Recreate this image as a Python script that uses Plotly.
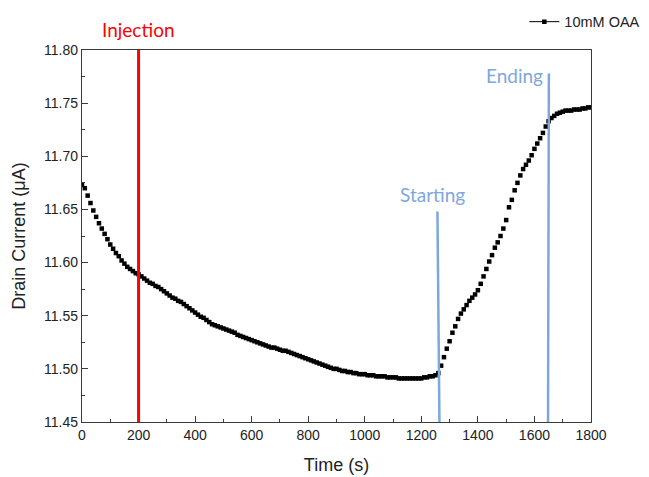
import numpy as np
import plotly.graph_objects as go

# Time in seconds (sampled every 10 s)
time_s = list(range(0, 1801, 10))

# Drain current (uA)
current_uA = [
    11.673, 11.670, 11.663, 11.656, 11.649, 11.643, 11.637, 11.632, 11.627, 11.622,
    11.617, 11.613, 11.609, 11.606, 11.602, 11.599, 11.596, 11.594, 11.592, 11.590,
    11.589, 11.587, 11.585, 11.583, 11.581, 11.580, 11.578, 11.577, 11.575, 11.573,
    11.571, 11.569, 11.567, 11.566, 11.564, 11.563, 11.561, 11.559, 11.557, 11.555,
    11.553, 11.551, 11.549, 11.548, 11.546, 11.544, 11.542, 11.541, 11.540, 11.539,
    11.538, 11.537, 11.536, 11.535, 11.534, 11.532, 11.531, 11.530, 11.529, 11.528,
    11.527, 11.526, 11.525, 11.524, 11.523, 11.522, 11.521, 11.520, 11.520, 11.519,
    11.518, 11.517, 11.517, 11.516, 11.515, 11.514, 11.513, 11.512, 11.511, 11.510,
    11.509, 11.508, 11.507, 11.506, 11.505, 11.504, 11.503, 11.502, 11.501, 11.500,
    11.500, 11.499, 11.498, 11.498, 11.497, 11.497, 11.496, 11.496, 11.495, 11.495,
    11.495, 11.494, 11.494, 11.494, 11.493, 11.493, 11.493, 11.493, 11.492, 11.492,
    11.492, 11.492, 11.491, 11.491, 11.491, 11.491, 11.491, 11.491, 11.491, 11.491,
    11.491, 11.492, 11.492, 11.493, 11.493, 11.494, 11.496, 11.503, 11.511, 11.519,
    11.526, 11.534, 11.540, 11.547, 11.552, 11.556, 11.560, 11.564, 11.567, 11.570,
    11.574, 11.580, 11.587, 11.594, 11.601, 11.607, 11.614, 11.619, 11.625, 11.632,
    11.640, 11.652, 11.659, 11.668, 11.675, 11.682, 11.688, 11.692, 11.696, 11.701,
    11.707, 11.712, 11.717, 11.722, 11.728, 11.733, 11.736, 11.738, 11.740, 11.741,
    11.742, 11.743, 11.743, 11.743, 11.744, 11.744, 11.744, 11.745, 11.745, 11.746,
    11.746,
]

series_name = "10mM OAA"

# Event markers
injection_t = 200
start_line_t = [1257, 1264]
start_line_v = [11.648, 11.45]
end_line_t = [1651, 1648]
end_line_v = [11.778, 11.45]

x_ticks = list(range(0, 1801, 200))
y_ticks = [11.45, 11.50, 11.55, 11.60, 11.65, 11.70, 11.75, 11.80]

RED = "#ff0000"
BLUE = "#7ea7dd"
AXIS = "#3a3a3a"
FONT = "Liberation Sans"

fig = go.Figure()
fig.add_trace(go.Scatter(
    x=time_s, y=current_uA, mode="markers",
    marker=dict(symbol="square", size=4.5, color="black"),
    showlegend=False,
))
fig.add_trace(go.Scatter(
    x=[None], y=[None], mode="lines+markers", name=series_name,
    marker=dict(symbol="square", size=4.5, color="black"),
    line=dict(color="black", width=1),
))

# Injection line (red)
fig.add_shape(type="line", xref="x", yref="y",
              x0=injection_t, x1=injection_t, y0=11.45, y1=11.80,
              line=dict(color=RED, width=3))
# Starting / Ending lines (blue)
fig.add_shape(type="line", xref="x", yref="y",
              x0=start_line_t[0], x1=start_line_t[1], y0=start_line_v[0], y1=start_line_v[1],
              line=dict(color=BLUE, width=2.5))
fig.add_shape(type="line", xref="x", yref="y",
              x0=end_line_t[0], x1=end_line_t[1], y0=end_line_v[0], y1=end_line_v[1],
              line=dict(color=BLUE, width=2.5))

fig.add_annotation(text="Injection", x=injection_t, xref="x", y=1.054, yref="paper",
                   yanchor="middle", xanchor="center",
                   showarrow=False, font=dict(family="Lato", size=19, color=RED))
fig.add_annotation(text="Starting", x=1241, y=11.664, xref="x", yref="y",
                   yanchor="middle", xanchor="center",
                   showarrow=False, font=dict(family="Lato", size=19, color=BLUE))
fig.add_annotation(text="Ending", x=1528, y=11.776, xref="x", yref="y",
                   yanchor="middle", xanchor="center",
                   showarrow=False, font=dict(family="Lato", size=19, color=BLUE))

fig.update_layout(
    width=649, height=477,
    margin=dict(l=82, r=58, t=50, b=55, autoexpand=False),
    paper_bgcolor="white", plot_bgcolor="white",
    font=dict(family=FONT, size=14, color="#222"),
    legend=dict(x=0.869, y=1.119, xanchor="left", yanchor="top",
                bgcolor="rgba(0,0,0,0)", font=dict(family=FONT, size=14.5, color="#222"),
                itemwidth=30),
)
fig.update_xaxes(
    range=[0, 1800], tickvals=x_ticks, ticktext=[str(v) for v in x_ticks],
    ticks="inside", ticklen=6, tickwidth=1, tickcolor=AXIS,
    tickfont=dict(family=FONT, size=14, color="#222"),
    minor=dict(dtick=100, ticks="inside", ticklen=3, tickcolor=AXIS),
    showline=True, linecolor=AXIS, linewidth=1.3, mirror=True,
    showgrid=False, zeroline=False,
    title=dict(text="Time (s)", font=dict(family=FONT, size=18, color="#222"), standoff=16),
)
fig.update_yaxes(
    range=[11.45, 11.80], tickvals=y_ticks, ticktext=[f"{v:.2f}" for v in y_ticks],
    ticks="inside", ticklen=6, tickwidth=1, tickcolor=AXIS,
    tickfont=dict(family=FONT, size=14, color="#222"),
    minor=dict(dtick=0.025, tick0=11.45, ticks="inside", ticklen=3, tickcolor=AXIS),
    showline=True, linecolor=AXIS, linewidth=1.3, mirror=True,
    showgrid=False, zeroline=False,
    title=dict(text="Drain Current (μA)", font=dict(family=FONT, size=18, color="#222"), standoff=13),
)

fig.write_html("out.html")
